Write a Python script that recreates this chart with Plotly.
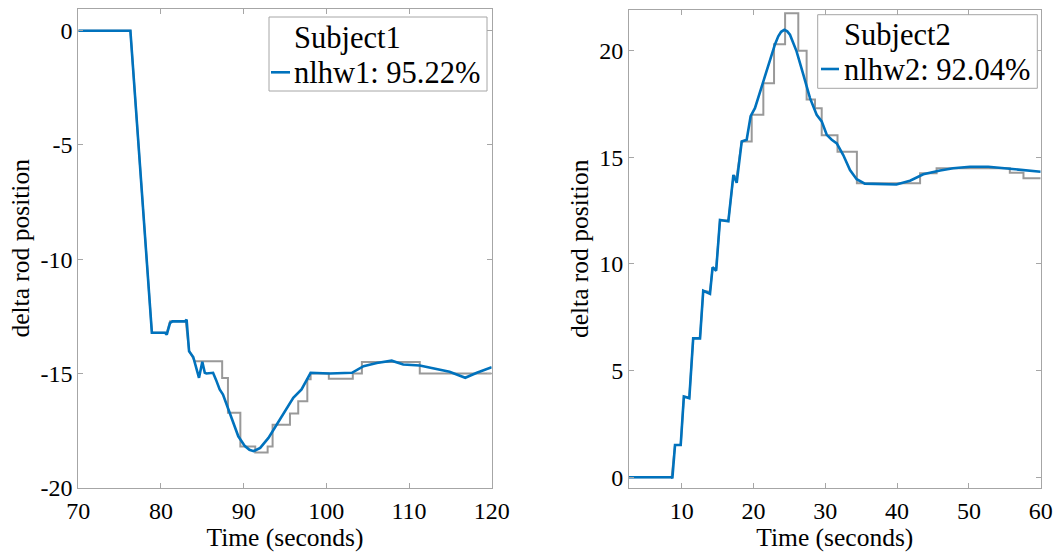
import plotly.graph_objects as go
from plotly.subplots import make_subplots

# ---------------- data ----------------
# Subject 1: measured (gray, step) and model (blue)
t1_meas = [70, 76.3, 78.9, 80.7, 81.1, 83.0, 83.4, 83.9, 84.1, 87.4, 87.4, 88.1, 88.1, 89.6, 89.6,
           91.4, 91.4, 92.9, 92.9, 93.5, 93.5, 95.6, 95.6, 96.6, 96.6, 97.7, 97.7, 98.1, 98.1,
           100.3, 100.3, 103.2, 103.2, 104.3, 104.3, 111.3, 111.3, 120]
y1_meas = [0, 0, -13.22, -13.22, -12.72, -12.72, -14.0, -14.3, -14.47, -14.47, -15.2, -15.2, -16.72, -16.72, -18.2,
           -18.2, -18.46, -18.46, -18.2, -18.2, -17.24, -17.24, -16.75, -16.75, -16.22, -16.22, -15.25, -15.25, -15.0,
           -15.0, -15.23, -15.23, -15.0, -15.0, -14.5, -14.5, -15.0, -15.0]

t1_model = [70, 76.3, 78.9, 80.5, 80.7, 81.1, 81.4, 82.9, 83.1, 83.4, 83.9, 84.2, 84.6, 85.0, 85.3, 85.5,
            86.3, 86.65, 87.1, 87.5, 88.1, 88.7, 89.35, 90.15, 90.7, 91.2, 92.0, 93.0, 94.0, 94.8, 96.0, 97.0,
            98.1, 100.4, 103.1, 104.5, 106.1, 107.9, 109.3, 111.3, 113.3, 114.9, 116.8, 118.2, 120]
y1_model = [0, 0, -13.22, -13.22, -13.3, -12.79, -12.72, -12.72, -12.64, -14.03, -14.28, -14.68, -15.19, -14.49,
            -14.97, -15.0, -14.97, -15.27, -15.7, -15.92, -16.5, -17.16, -17.75, -18.18, -18.34, -18.4, -18.26, -17.82,
            -17.24, -16.8, -16.07, -15.7, -14.97, -15.0, -14.97, -14.68, -14.54, -14.44, -14.61, -14.65, -14.8,
            -14.93, -15.19, -14.97, -14.73]

# Subject 2
t2_meas = [2.66, 8.6, 9.07, 9.86, 10.3, 11.06, 11.6, 12.55, 13.0, 13.94, 14.3, 14.8, 15.33, 16.5, 17.2, 17.66,
           18.36, 19.75, 19.75, 21.37, 21.37, 22.86, 22.86, 24.4, 24.4, 26.24, 26.24, 27.4, 27.4, 28.57, 28.57,
           29.5, 29.5, 31.7, 31.7, 34.4, 34.4, 43.2, 43.2, 45.5, 45.5, 55.7, 55.7, 57.6, 57.6, 60]
y2_meas = [0, 0, 1.51, 1.51, 3.78, 3.75, 6.51, 6.51, 8.74, 8.7, 9.8, 9.8, 12.03, 12.03, 14.1, 14.1,
           15.74, 15.74, 16.99, 16.99, 18.47, 18.47, 20.29, 20.29, 21.75, 21.75, 19.99, 19.99, 17.7, 17.7, 17.3,
           17.3, 16.03, 16.03, 15.26, 15.26, 13.78, 13.78, 14.25, 14.25, 14.48, 14.48, 14.27, 14.27, 14.01, 14.01]

t2_model = [2.66, 8.6, 8.7, 9.07, 9.86, 10.3, 11.06, 11.6, 12.55, 13.0, 13.94, 14.3, 14.8, 15.33, 16.5, 17.2,
            17.66, 18.36, 19.05, 19.6, 20.2, 21.37, 22.5, 23.0, 23.45, 23.85, 24.3, 24.7, 25.08, 25.5, 26.0,
            26.94, 27.87, 28.8, 29.5, 30.2, 30.9, 31.6, 32.5, 33.44, 34.37, 35.5, 37.6, 39.9, 41.8, 43.65,
            46.0, 47.8, 50.15, 52.7, 55.7, 58.5, 60]
y2_model = [0, 0, -0.05, 1.51, 1.51, 3.78, 3.7, 6.51, 6.51, 8.74, 8.6, 9.84, 9.68, 12.06, 12.0, 14.17,
            13.8, 15.74, 15.82, 16.92, 17.3, 18.56, 19.8, 20.3, 20.67, 20.88, 20.97, 20.9, 20.74, 20.4, 19.96,
            18.87, 17.77, 16.99, 16.68, 16.05, 15.82, 15.65, 15.1, 14.4, 13.97, 13.76, 13.74, 13.72, 13.9, 14.2,
            14.38, 14.48, 14.55, 14.55, 14.46, 14.35, 14.32]

x1_ticks = [70, 80, 90, 100, 110, 120]
y1_ticks = [-20, -15, -10, -5, 0]
y1_ticktext = ["-20", "-15", "-10", "-5", "0"]
x2_ticks = [10, 20, 30, 40, 50, 60]
y2_ticks = [0, 5, 10, 15, 20]

legend1_title = "Subject1"
legend1_entry = "nlhw1: 95.22%"
legend2_title = "Subject2"
legend2_entry = "nlhw2: 92.04%"

# ---------------- styles ----------------
W, H = 1058, 558
FONT = "Liberation Serif"
BLUE = "#0072BD"
GRAY = "#999999"
AXC = "#a6a6a6"
LEG_FONT = 30.5

fig = make_subplots(rows=1, cols=2)

fig.add_trace(go.Scatter(x=t1_meas, y=y1_meas, mode="lines", line=dict(color=GRAY, width=2),
                         name=legend1_title, showlegend=False, hoverinfo="skip"), row=1, col=1)
fig.add_trace(go.Scatter(x=t1_model, y=y1_model, mode="lines", line=dict(color=BLUE, width=2.6),
                         name=legend1_entry, showlegend=False), row=1, col=1)
fig.add_trace(go.Scatter(x=t2_meas, y=y2_meas, mode="lines", line=dict(color=GRAY, width=2),
                         name=legend2_title, showlegend=False, hoverinfo="skip"), row=1, col=2)
fig.add_trace(go.Scatter(x=t2_model, y=y2_model, mode="lines", line=dict(color=BLUE, width=2.6),
                         name=legend2_entry, showlegend=False), row=1, col=2)

axis_common = dict(showline=True, linecolor=AXC, linewidth=1, mirror="ticks", ticks="inside",
                   ticklen=5, tickcolor=AXC, showgrid=False, zeroline=False, automargin=False,
                   tickfont=dict(family=FONT, size=24, color="black"),
                   title_font=dict(family=FONT, size=25.5, color="black"))

fig.update_xaxes(**axis_common)
fig.update_yaxes(**axis_common)

fig.update_layout(
    xaxis=dict(domain=[78.3 / W, 491.7 / W], range=[70, 120], tickvals=x1_ticks,
               title=dict(text="Time (seconds)", standoff=3), ticklabelstandoff=1),
    yaxis=dict(domain=[1 - 487.7 / H, 1 - 9 / H], range=[-20, 0.95], tickvals=y1_ticks,
               ticktext=y1_ticktext, title=dict(text="delta rod position", standoff=3),
               ticklabelstandoff=0),
    xaxis2=dict(domain=[629 / W, 1040.7 / W], range=[2.66, 60], tickvals=x2_ticks,
                title=dict(text="Time (seconds)", standoff=3), ticklabelstandoff=1),
    yaxis2=dict(domain=[1 - 487.7 / H, 1 - 10 / H], range=[-0.49, 21.9], tickvals=y2_ticks,
                title=dict(text="delta rod position", standoff=3), ticklabelstandoff=0),
    width=W, height=H,
    margin=dict(l=0, r=0, t=0, b=0),
    paper_bgcolor="white", plot_bgcolor="white",
    showlegend=False,
)

# legend boxes (drawn like the MATLAB legends)
legends = [
    dict(box=(269, 17, 487, 91), text_x=292.5, title_y=38, entry_y=73, sample=(271, 290, 72.3),
         title=legend1_title, entry=legend1_entry),
    dict(box=(817.7, 14.7, 1037.3, 88.3), text_x=842.5, title_y=35, entry_y=70, sample=(821, 839, 69),
         title=legend2_title, entry=legend2_entry),
]
for lg in legends:
    x0, y0, x1, y1 = lg["box"]
    fig.add_shape(type="rect", xref="paper", yref="paper", x0=x0 / W, x1=x1 / W,
                  y0=1 - y1 / H, y1=1 - y0 / H, line=dict(color=AXC, width=1),
                  fillcolor="white", layer="above")
    sx0, sx1, sy = lg["sample"]
    fig.add_shape(type="line", xref="paper", yref="paper", x0=sx0 / W, x1=sx1 / W,
                  y0=1 - sy / H, y1=1 - sy / H, line=dict(color=BLUE, width=2.6), layer="above")
    for txt, ty in ((lg["title"], lg["title_y"]), (lg["entry"], lg["entry_y"])):
        fig.add_annotation(text=txt, xref="paper", yref="paper", x=lg["text_x"] / W, y=1 - ty / H,
                           xanchor="left", yanchor="middle", showarrow=False, borderpad=0,
                           font=dict(family=FONT, size=LEG_FONT, color="black"))

fig.write_html("out.html", post_script="document.body.style.margin='0';",
               config={"displayModeBar": False})
